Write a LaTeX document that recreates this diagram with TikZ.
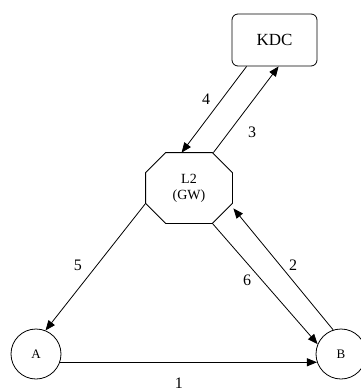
\documentclass[tikz,border=0pt]{standalone}
\usepackage{fontspec}
\setmainfont{Liberation Serif}
\usetikzlibrary{arrows.meta,calc}
\begin{document}
\begin{tikzpicture}[x=1pt,y=-1pt,
  line width=0.8pt,
  arr/.style={-{Triangle[length=10pt,width=8pt]}},
  lbl/.style={font=\fontsize{16}{16}\selectfont, inner sep=0pt},
  circ/.style={draw, circle, minimum size=50pt, inner sep=0pt, font=\fontsize{13}{13}\selectfont}]
\useasboundingbox (0,0) rectangle (361,392);
\fill[white] (0,0) rectangle (361,392);
% nodes
\node[draw, rounded corners=6pt, minimum width=85pt, minimum height=52pt, inner sep=0pt,
      font=\fontsize{17}{17}\selectfont] (kdc) at (274.5,40) {KDC};
\node[minimum width=86pt, minimum height=70pt, inner sep=0pt, align=center,
      font=\fontsize{14}{16}\selectfont] (gw) at (189,188) {L2\\(GW)};
\draw ($(gw.north west)+(20,0)$) -- ($(gw.north east)+(-20,0)$)
   -- ($(gw.north east)+(0,20)$) -- ($(gw.south east)+(0,-20)$)
   -- ($(gw.south east)+(-20,0)$) -- ($(gw.south west)+(20,0)$)
   -- ($(gw.south west)+(0,-20)$) -- ($(gw.north west)+(0,20)$) -- cycle;
\node[circ] (A) at (36,354) {A};
\node[circ] (B) at (341,354) {B};
\coordinate (gwLL) at ($(gw.south west)+(0,-20)$);
\coordinate (gwBR) at ($(gw.south east)+(-20,0)$);
\coordinate (gwR) at ($(gw.south east)+(1,-15)$);
\coordinate (gwT) at ($(gw.north west)+(36,0)$);
\coordinate (gwTR) at ($(gw.north east)+(-19,0)$);
\coordinate (kdcB1) at ($(kdc.south west)+(15,0)$);
\coordinate (kdcB2) at ($(kdc.south west)+(47,0)$);
% connectors
\draw[arr] (A.-19) -- (B.199);
\draw[arr] (gwLL) -- (A.68);
\draw[arr] (gwBR) -- (B.157);
\draw[arr] (B.108) -- (gwR);
\draw[arr] (kdcB1) -- (gwT);
\draw[arr] (gwTR) -- (kdcB2);
% labels
\node[lbl] (l1) at (179,383) {1};
\node[lbl] (l5) at (78,265) {5};
\node[lbl] (l6) at (247,280) {6};
\node[lbl] (l2) at (293,265) {2};
\node[lbl] (l4) at (206,99) {4};
\node[lbl] (l3) at (252,132) {3};
\end{tikzpicture}
\end{document}
